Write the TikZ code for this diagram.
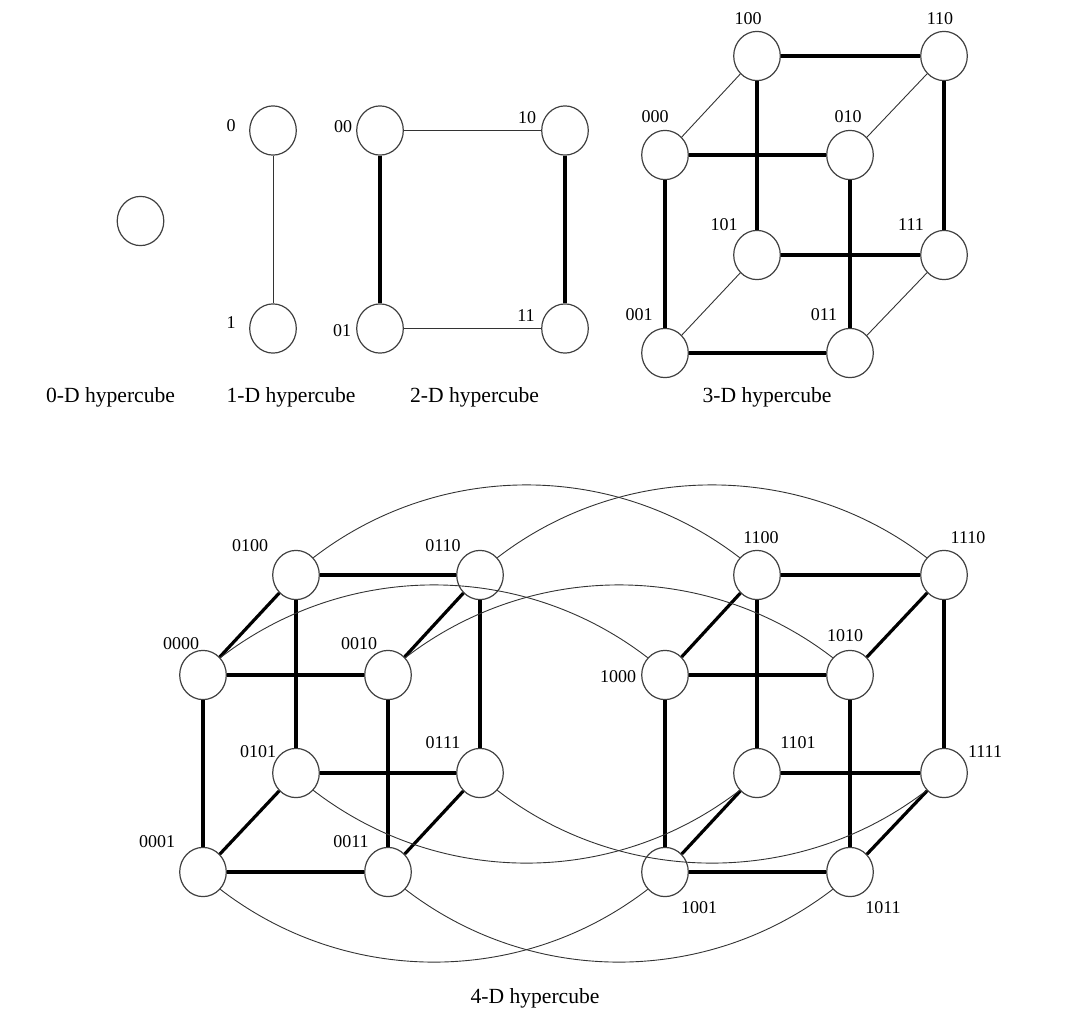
\documentclass[tikz,border=0pt]{standalone}
\usepackage{fontspec}
\setmainfont{Liberation Serif}
\usetikzlibrary{shapes.geometric}
\begin{document}
\begin{tikzpicture}[x=0.5pt,y=-0.5pt,
  vtx/.style={ellipse,draw=black!75,line width=0.6pt,minimum width=23.3pt,minimum height=24.6pt,inner sep=0pt},
  lbl/.style={inner sep=0pt,font=\fontsize{9}{10}\selectfont},
  captxt/.style={inner sep=0pt,font=\fontsize{10.8}{12}\selectfont},
  thinedge/.style={draw=black!80,line width=0.45pt},
  thickedge/.style={draw=black,line width=1.6pt},
  arcedge/.style={draw=black!80,line width=0.45pt}]
\useasboundingbox (0,0) rectangle (1074,1028);

% ---------- 0-D ----------
\node[vtx] (z) at (140.5,221) {};
\node[captxt] (cap0) at (110.5,397) {0-D hypercube};

% ---------- 1-D ----------
\node[vtx] (a0) at (273,130.5) {};
\node[vtx] (a1) at (273,328.5) {};
\node[lbl] (la0) at (231,126) {0};
\node[lbl] (la1) at (231,323) {1};
\draw[thinedge] (a0) -- (a1);
\node[captxt] (cap1) at (291,397) {1-D hypercube};

% ---------- 2-D ----------
\node[vtx] (b00) at (380,130.5) {};
\node[vtx] (b10) at (565,130.5) {};
\node[vtx] (b01) at (380,328.5) {};
\node[vtx] (b11) at (565,328.5) {};
\node[lbl] (lb00) at (343,127) {00};
\node[lbl] (lb10) at (527,118) {10};
\node[lbl] (lb01) at (342,331) {01};
\node[lbl] (lb11) at (526,316) {11};
\draw[thinedge] (b00) -- (b10);
\draw[thinedge] (b01) -- (b11);
\draw[thickedge] (b00) -- (b01);
\draw[thickedge] (b10) -- (b11);
\node[captxt] (cap2) at (474.5,397) {2-D hypercube};

% ---------- 3-D ----------
\node[vtx] (c100) at (757,56) {};
\node[vtx] (c110) at (944,56) {};
\node[vtx] (c000) at (665,155) {};
\node[vtx] (c010) at (850,155) {};
\node[vtx] (c101) at (757,255) {};
\node[vtx] (c111) at (944,255) {};
\node[vtx] (c001) at (665,353) {};
\node[vtx] (c011) at (850,353) {};
\node[lbl] (lc100) at (748,19) {100};
\node[lbl] (lc110) at (940,19) {110};
\node[lbl] (lc000) at (655,117) {000};
\node[lbl] (lc010) at (848,117) {010};
\node[lbl] (lc101) at (724,225) {101};
\node[lbl] (lc111) at (911,225) {111};
\node[lbl] (lc001) at (639,315) {001};
\node[lbl] (lc011) at (824,315) {011};
\draw[thickedge] (c100) -- (c110);
\draw[thickedge] (c000) -- (c010);
\draw[thickedge] (c101) -- (c111);
\draw[thickedge] (c001) -- (c011);
\draw[thickedge] (c100) -- (c101);
\draw[thickedge] (c110) -- (c111);
\draw[thickedge] (c000) -- (c001);
\draw[thickedge] (c010) -- (c011);
\draw[thinedge] (c000) -- (c100);
\draw[thinedge] (c010) -- (c110);
\draw[thinedge] (c001) -- (c101);
\draw[thinedge] (c011) -- (c111);
\node[captxt] (cap3) at (767,397) {3-D hypercube};

% ---------- 4-D ----------
\node[vtx] (d0100) at (296,575) {};
\node[vtx] (d0110) at (480,575) {};
\node[vtx] (d0000) at (203,675) {};
\node[vtx] (d0010) at (388,675) {};
\node[vtx] (d0101) at (296,773) {};
\node[vtx] (d0111) at (480,773) {};
\node[vtx] (d0001) at (203,872) {};
\node[vtx] (d0011) at (388,872) {};
\node[vtx] (d1100) at (757,575) {};
\node[vtx] (d1110) at (944,575) {};
\node[vtx] (d1000) at (665,675) {};
\node[vtx] (d1010) at (850,675) {};
\node[vtx] (d1101) at (757,773) {};
\node[vtx] (d1111) at (944,773) {};
\node[vtx] (d1001) at (665,872) {};
\node[vtx] (d1011) at (850,872) {};

\node[lbl] (ld0100) at (250,546) {0100};
\node[lbl] (ld0110) at (443,546) {0110};
\node[lbl] (ld0000) at (181,644) {0000};
\node[lbl] (ld0010) at (359,644) {0010};
\node[lbl] (ld0101) at (258,752) {0101};
\node[lbl] (ld0111) at (443,743) {0111};
\node[lbl] (ld0001) at (157,842) {0001};
\node[lbl] (ld0011) at (351,842) {0011};
\node[lbl] (ld1100) at (761,538) {1100};
\node[lbl] (ld1110) at (968,538) {1110};
\node[lbl] (ld1000) at (618,677) {1000};
\node[lbl] (ld1010) at (845,636) {1010};
\node[lbl] (ld1101) at (798,743) {1101};
\node[lbl] (ld1111) at (985,752) {1111};
\node[lbl] (ld1001) at (699,908) {1001};
\node[lbl] (ld1011) at (883,908) {1011};

% cube edges (both sub-cubes)
\foreach \p in {0,1}{
  \draw[thickedge] (d\p100) -- (d\p110);
  \draw[thickedge] (d\p000) -- (d\p010);
  \draw[thickedge] (d\p101) -- (d\p111);
  \draw[thickedge] (d\p001) -- (d\p011);
  \draw[thickedge] (d\p100) -- (d\p101);
  \draw[thickedge] (d\p110) -- (d\p111);
  \draw[thickedge] (d\p000) -- (d\p001);
  \draw[thickedge] (d\p010) -- (d\p011);
  \draw[thickedge] (d\p000) -- (d\p100);
  \draw[thickedge] (d\p010) -- (d\p110);
  \draw[thickedge] (d\p001) -- (d\p101);
  \draw[thickedge] (d\p011) -- (d\p111);
}

% arcs between the sub-cubes (circular-arc approximation)
\foreach \q in {100,110,000,010}{
  \draw[arcedge] (d0\q.45) .. controls +(126,-97) and +(-126,-97) .. (d1\q.135);
}
\foreach \q in {101,111,001,011}{
  \draw[arcedge] (d0\q.-45) .. controls +(126,97) and +(-126,97) .. (d1\q.-135);
}
\node[captxt] (cap4) at (535,998) {4-D hypercube};
\end{tikzpicture}
\end{document}
